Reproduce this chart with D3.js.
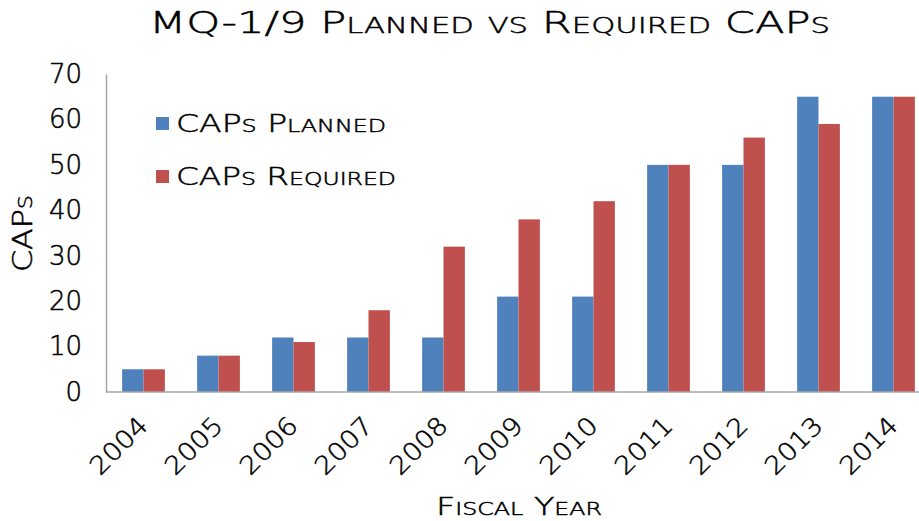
<!DOCTYPE html>
<html>
<head>
<meta charset="utf-8">
<script src="https://cdn.jsdelivr.net/npm/d3@7"></script>
<style>
  body { margin: 0; background: #fff; }
  svg text { font-family: "DejaVu Sans", sans-serif; font-weight: 200; fill: #000; stroke: #000; stroke-width: 0.5px; }
</style>
</head>
<body>
<svg id="chart"></svg>
<script>
const years = ["2004", "2005", "2006", "2007", "2008", "2009", "2010", "2011", "2012", "2013", "2014"]
const seriesNames = ["CAPs Planned", "CAPs Required"]
const planned = [5, 8, 12, 12, 12, 21, 21, 50, 50, 65, 65]
const required = [5, 8, 11, 18, 32, 38, 42, 50, 56, 59, 65]
const yTicks = [0, 10, 20, 30, 40, 50, 60, 70]
const colors = ["#4F81BD", "#C0504D"]

const width = 919
const height = 521
const margin = { left: 106, top: 74, bottom: 392 }

const svg = d3.select("#chart")
              .attr("width", width)
              .attr("height", height)

const x0 = d3.scaleBand()
             .domain(years)
             .range([margin.left, margin.left + years.length * 75])
             .paddingInner(0.43)
             .paddingOuter(0.215)

const x1 = d3.scaleBand()
             .domain([0, 1])
             .range([0, x0.bandwidth()])

const y = d3.scaleLinear()
            .domain([0, 70])
            .range([margin.bottom, margin.top])

const rows = years.map((yr, i) => ({ year: yr, values: [planned[i], required[i]] }))

// bars
const groups = svg.append("g")
                  .selectAll("g")
                  .data(rows)
                  .join("g")
                  .attr("transform", d => `translate(${x0(d.year)},0)`)

groups.selectAll("rect")
      .data(d => d.values.map((v, k) => ({ k, v })))
      .join("rect")
      .attr("x", d => x1(d.k))
      .attr("y", d => y(d.v))
      .attr("width", x1.bandwidth())
      .attr("height", d => y(0) - y(d.v))
      .attr("fill", d => colors[d.k])

// axis lines
const yAxis = svg.append("g")
                 .attr("transform", `translate(${margin.left},0)`)
                 .call(d3.axisLeft(y).tickValues(yTicks).tickSize(0).tickPadding(24))
yAxis.select(".domain").attr("stroke", "#a6a6a6").attr("stroke-width", 1.5)
yAxis.selectAll("text")
     .attr("font-size", 26)
     .attr("font-family", "DejaVu Sans")
     .attr("fill", "#000")

svg.append("line")
   .attr("x1", margin.left)
   .attr("x2", width)
   .attr("y1", y(0))
   .attr("y2", y(0))
   .attr("stroke", "#a6a6a6")
   .attr("stroke-width", 1.5)

// year labels
svg.append("g")
   .selectAll("text")
   .data(years)
   .join("text")
   .attr("transform", d => `translate(${x0(d) + x0.bandwidth() / 2 + 6},427) rotate(-45)`)
   .attr("text-anchor", "end")
   .attr("font-size", 25)
   .attr("textLength", 70)
   .attr("lengthAdjust", "spacingAndGlyphs")
   .text(d => d)

// titles
svg.append("text")
   .attr("x", 149)
   .attr("y", 33)
   .attr("font-size", 31)
   .style("font-variant", "small-caps")
   .attr("textLength", 681)
   .attr("lengthAdjust", "spacingAndGlyphs")
   .text("MQ-1/9 Planned vs Required CAPs")

svg.append("text")
   .attr("x", 436)
   .attr("y", 515)
   .attr("font-size", 24)
   .style("font-variant", "small-caps")
   .attr("textLength", 166)
   .attr("lengthAdjust", "spacingAndGlyphs")
   .text("Fiscal Year")

svg.append("text")
   .attr("transform", "translate(32,272) rotate(-90)")
   .attr("font-size", 27)
   .style("font-variant", "small-caps")
   .attr("textLength", 77)
   .attr("lengthAdjust", "spacingAndGlyphs")
   .text("CAPs")

// legend
const legend = svg.append("g")
                  .selectAll("g")
                  .data(seriesNames)
                  .join("g")
                  .attr("transform", (d, i) => `translate(156,${117 + i * 53})`)

legend.append("rect")
      .attr("width", 13)
      .attr("height", 13)
      .attr("fill", (d, i) => colors[i])

legend.append("text")
      .attr("x", 20)
      .attr("y", 14.5)
      .attr("font-size", 25)
      .style("font-variant", "small-caps")
      .attr("textLength", (d, i) => i === 0 ? 210 : 220)
      .attr("lengthAdjust", "spacingAndGlyphs")
      .text(d => d)
</script>
</body>
</html>
